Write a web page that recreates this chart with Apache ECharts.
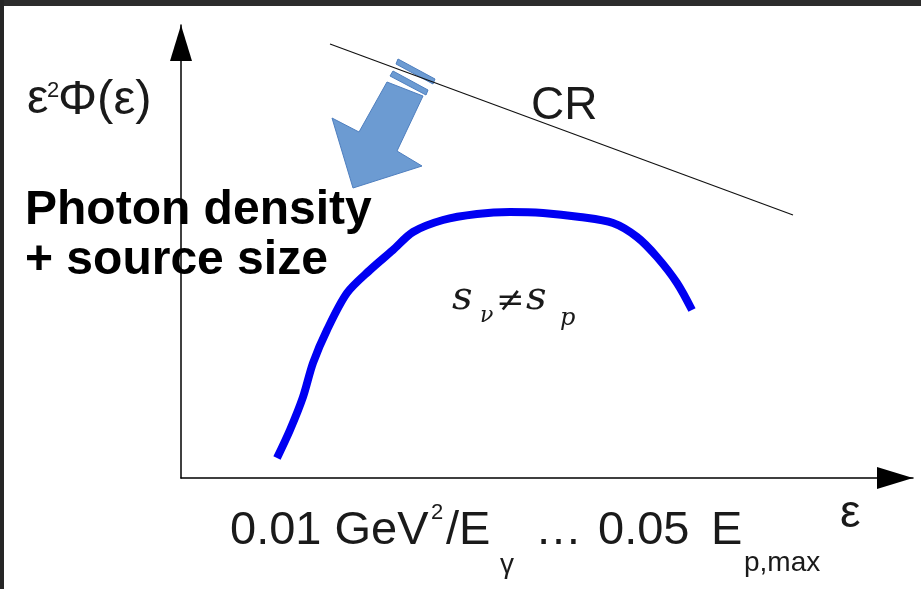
<!DOCTYPE html>
<html>
<head>
<meta charset="utf-8">
<script src="https://cdn.jsdelivr.net/npm/echarts@6/dist/echarts.min.js"></script>
<style>
html,body{margin:0;padding:0;background:#fff;}
#chart{width:921px;height:589px;}
</style>
</head>
<body>
<div id="chart"></div>
<script>
// Sketch coordinates: x = energy axis units, y = epsilon^2 Phi units (axis range 0..732, 0..453)
const curveX = [96, 109, 122, 132, 146, 166, 189, 212, 232, 262, 296, 329, 362, 399, 432, 456, 476, 496, 511];
const curveY = [20, 48, 81, 115, 148, 185, 208, 228, 246, 258, 264, 266, 265, 261, 255, 241, 221, 195, 168];
const crX = [149, 612];
const crY = [434, 263];
const arrowBody = [[206,396],[242,382],[216,327],[241,312],[172,290],[151,360],[178,346]];
const arrowBar1 = [[217,419],[254,399],[252,394],[215,414]];
const arrowBar2 = [[212,407],[247,388],[245,383],[209,402]];
const arrowShapes = [arrowBody, arrowBar1, arrowBar2];
const xMax = 732, yMax = 453;

const chart = echarts.init(document.getElementById('chart'), null, {renderer:'canvas'});

function axisCfg(max){
  return {
    type:'value', min:0, max:max,
    axisLine:{show:true, onZero:false, symbol:['none','triangle'], symbolSize:[22,36], symbolOffset:[0,-18],
      lineStyle:{color:'#000', width:1.5}},
    axisTick:{show:false}, axisLabel:{show:false}, splitLine:{show:false}
  };
}

const sans = '"Liberation Sans", Arial, sans-serif';
const serif = '"DejaVu Serif", "Liberation Serif", serif';
function txt(x, y, text, size, opts){
  opts = opts || {};
  return {type:'text', x:x, y:y, silent:true, z:100,
    style:{text:text, font:(opts.style||'normal')+' '+(opts.weight||'normal')+' '+size+'px '+(opts.family||sans),
      fill:opts.color||'#1a1a1a', verticalAlign:'middle', align:'left'}};
}

chart.setOption({
  animation:false,
  backgroundColor:'#ffffff',
  grid:{left:181, top:25, width:xMax, height:yMax},
  xAxis: axisCfg(xMax),
  yAxis: axisCfg(yMax),
  series:[
    {
      type:'line', name:'spectrum', smooth:0.3, symbol:'none',
      data: curveX.map((x,i)=>[x, curveY[i]]),
      lineStyle:{color:'#0000f2', width:8, cap:'butt'}
    },
    {
      type:'line', name:'CR', symbol:'none',
      data: crX.map((x,i)=>[x, crY[i]]),
      lineStyle:{color:'#111', width:1.2}
    },
    {
      type:'custom', name:'arrow', clip:false,
      data: arrowShapes.map((s,i)=>[i]),
      renderItem: function(params, api){
        const pts = arrowShapes[params.dataIndex].map(p=>api.coord(p));
        return {type:'polygon', shape:{points:pts},
          style:{fill:'#6c9bd2', stroke:'#4f7fbf', lineWidth:1}};
      }
    }
  ],
  graphic:[
    {type:'rect', shape:{x:0,y:0,width:921,height:6}, style:{fill:'#2c2c2c'}, silent:true, z:200},
    {type:'rect', shape:{x:0,y:0,width:4,height:589}, style:{fill:'#262626'}, silent:true, z:200},
    // y-axis label
    txt(27, 100, 'ε', 48),
    txt(47, 91, '2', 22),
    txt(58, 100, 'Φ(ε)', 49),
    // CR
    txt(531, 106, 'CR', 46),
    // Photon density
    txt(25, 211, 'Photon density', 48, {weight:'bold', color:'#000'}),
    txt(25, 261, '+ source size', 48, {weight:'bold', color:'#000'}),
    // s_nu != s_p
    txt(452, 299, 's', 40, {style:'italic', family:serif}),
    txt(480, 316, 'ν', 22, {style:'italic', family:serif}),
    txt(496, 302, '≠', 34, {family:serif}),
    txt(526, 299, 's', 40, {style:'italic', family:serif}),
    txt(560, 319, 'p', 24, {style:'italic', family:serif}),
    // x-axis label
    txt(230, 531, '0.01 GeV', 47),
    txt(431, 513, '2', 22),
    txt(446, 531, '/E', 47),
    txt(500, 565, 'γ', 28),
    txt(535, 531, '…', 47),
    txt(598, 531, '0.05', 47),
    txt(711, 531, 'E', 47),
    txt(744, 563, 'p,max', 28),
    txt(840, 514, 'ε', 46)
  ]
});
</script>
</body>
</html>
